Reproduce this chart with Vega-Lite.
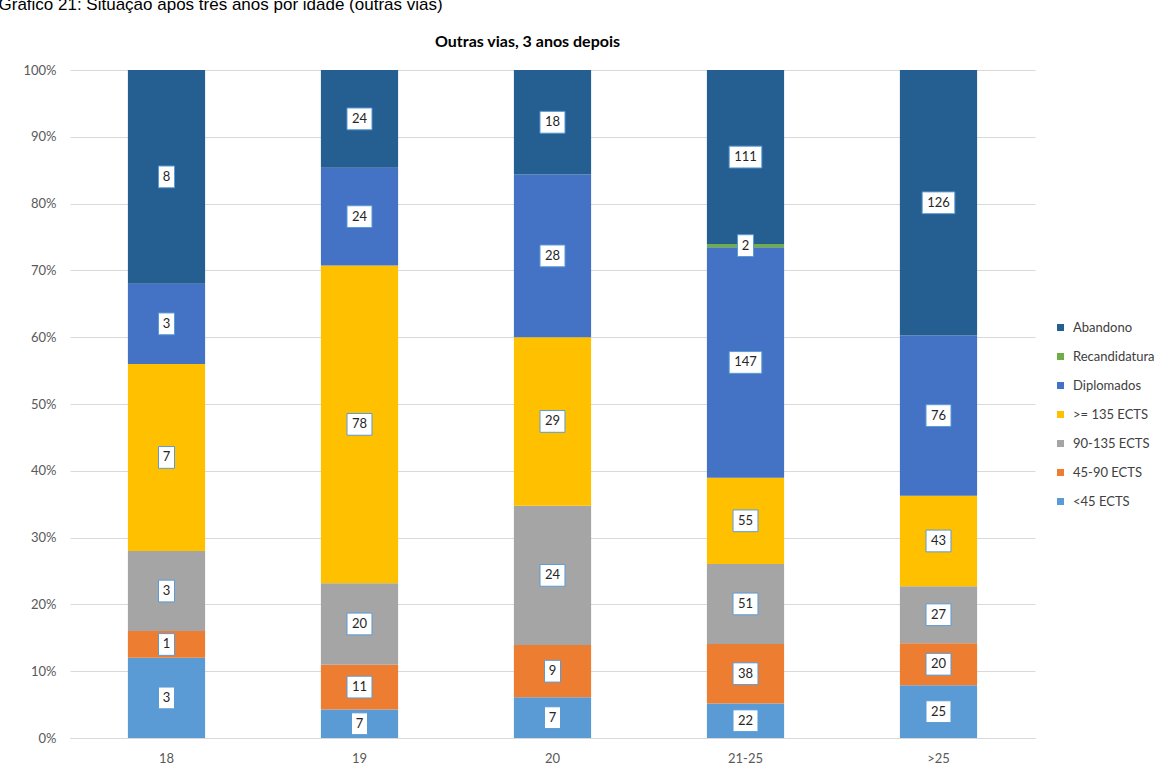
{
  "$schema": "https://vega.github.io/schema/vega-lite/v6.json",
  "background": "white",
  "autosize": {"type": "none"},
  "width": 965,
  "height": 668,
  "padding": {"left": 70, "top": 70, "right": 137, "bottom": 33},
  "title": {"text": "Outras vias, 3 anos depois", "anchor": "middle", "frame": "group", "fontSize": 16, "font": "Lato", "fontWeight": "bold", "color": "#000000", "dx": -25, "offset": 0, "dy": 55},
  "data": {"values": [
    {"age": "18", "cat": "<45 ECTS", "k": 1, "value": 3},
    {"age": "18", "cat": "45-90 ECTS", "k": 2, "value": 1},
    {"age": "18", "cat": "90-135 ECTS", "k": 3, "value": 3},
    {"age": "18", "cat": ">= 135 ECTS", "k": 4, "value": 7},
    {"age": "18", "cat": "Diplomados", "k": 5, "value": 3},
    {"age": "18", "cat": "Recandidatura", "k": 6, "value": 0},
    {"age": "18", "cat": "Abandono", "k": 7, "value": 8},
    {"age": "19", "cat": "<45 ECTS", "k": 1, "value": 7},
    {"age": "19", "cat": "45-90 ECTS", "k": 2, "value": 11},
    {"age": "19", "cat": "90-135 ECTS", "k": 3, "value": 20},
    {"age": "19", "cat": ">= 135 ECTS", "k": 4, "value": 78},
    {"age": "19", "cat": "Diplomados", "k": 5, "value": 24},
    {"age": "19", "cat": "Recandidatura", "k": 6, "value": 0},
    {"age": "19", "cat": "Abandono", "k": 7, "value": 24},
    {"age": "20", "cat": "<45 ECTS", "k": 1, "value": 7},
    {"age": "20", "cat": "45-90 ECTS", "k": 2, "value": 9},
    {"age": "20", "cat": "90-135 ECTS", "k": 3, "value": 24},
    {"age": "20", "cat": ">= 135 ECTS", "k": 4, "value": 29},
    {"age": "20", "cat": "Diplomados", "k": 5, "value": 28},
    {"age": "20", "cat": "Recandidatura", "k": 6, "value": 0},
    {"age": "20", "cat": "Abandono", "k": 7, "value": 18},
    {"age": "21-25", "cat": "<45 ECTS", "k": 1, "value": 22},
    {"age": "21-25", "cat": "45-90 ECTS", "k": 2, "value": 38},
    {"age": "21-25", "cat": "90-135 ECTS", "k": 3, "value": 51},
    {"age": "21-25", "cat": ">= 135 ECTS", "k": 4, "value": 55},
    {"age": "21-25", "cat": "Diplomados", "k": 5, "value": 147},
    {"age": "21-25", "cat": "Recandidatura", "k": 6, "value": 2},
    {"age": "21-25", "cat": "Abandono", "k": 7, "value": 111},
    {"age": ">25", "cat": "<45 ECTS", "k": 1, "value": 25},
    {"age": ">25", "cat": "45-90 ECTS", "k": 2, "value": 20},
    {"age": ">25", "cat": "90-135 ECTS", "k": 3, "value": 27},
    {"age": ">25", "cat": ">= 135 ECTS", "k": 4, "value": 43},
    {"age": ">25", "cat": "Diplomados", "k": 5, "value": 76},
    {"age": ">25", "cat": "Recandidatura", "k": 6, "value": 0},
    {"age": ">25", "cat": "Abandono", "k": 7, "value": 126}
  ]},
  "transform": [
    {"stack": "value", "groupby": ["age"], "sort": [{"field": "k", "order": "ascending"}], "offset": "normalize", "as": ["y0", "y1"]},
    {"calculate": "(datum.y0 + datum.y1) / 2", "as": "ymid"},
    {"calculate": "length(toString(datum.value))", "as": "digits"}
  ],
  "encoding": {
    "x": {"field": "age", "type": "nominal", "sort": ["18", "19", "20", "21-25", ">25"], "scale": {"paddingInner": 0.6, "paddingOuter": 0.3},
          "axis": {"title": null, "labelAngle": 0, "ticks": false, "domainColor": "#D9D9D9", "labelColor": "#595959", "labelFontSize": 13, "labelFont": "Lato", "labelPadding": 14}}
  },
  "layer": [
    {
      "mark": {"type": "bar"},
      "encoding": {
        "y": {"field": "y0", "type": "quantitative", "scale": {"domain": [0, 1]}, "title": "Gráfico 21: Situação após três anos por idade (outras vias)"},
        "y2": {"field": "y1"},
        "color": {"field": "cat", "type": "nominal",
                  "scale": {"domain": ["Abandono", "Recandidatura", "Diplomados", ">= 135 ECTS", "90-135 ECTS", "45-90 ECTS", "<45 ECTS"],
                            "range": ["#255E91", "#70AD47", "#4472C4", "#FFC000", "#A5A5A5", "#ED7D31", "#5B9BD5"]},
                  "legend": {"title": null, "orient": "none", "legendX": 984, "legendY": 251, "symbolType": "square", "symbolSize": 49, "symbolStrokeWidth": 0, "labelFontSize": 13, "labelFont": "Lato", "labelColor": "#404040", "rowPadding": 15, "labelOffset": 6}}
      }
    },
    {
      "transform": [{"filter": "datum.value > 0"}],
      "mark": {"type": "point", "filled": true, "fill": "white", "stroke": "#5B9BD5", "strokeWidth": 1, "opacity": 1, "size": 1024},
      "encoding": {
        "y": {"field": "ymid", "type": "quantitative", "title": "Gráfico 21: Situação após três anos por idade (outras vias)"},
        "shape": {"field": "digits", "type": "ordinal", "legend": null,
                  "scale": {"domain": [1, 2, 3], "range": ["M-0.5,-0.68L0.5,-0.68L0.5,0.68L-0.5,0.68Z", "M-0.78,-0.68L0.78,-0.68L0.78,0.68L-0.78,0.68Z", "M-1.02,-0.68L1.02,-0.68L1.02,0.68L-1.02,0.68Z"]}}
      }
    },
    {
      "transform": [{"filter": "datum.value > 0"}],
      "mark": {"type": "text", "fontSize": 13, "font": "Lato", "color": "#262626", "baseline": "middle", "align": "center"},
      "encoding": {
        "y": {"field": "ymid", "type": "quantitative", "title": "Gráfico 21: Situação após três anos por idade (outras vias)"},
        "text": {"field": "value", "type": "quantitative"}
      }
    }
  ],
  "config": {
    "view": {"stroke": null},
    "axisY": {"titleAngle": 0, "titleX": -72, "titleY": -61, "titleAlign": "left", "titleBaseline": "alphabetic", "titleFont": "Liberation Sans", "titleFontSize": 17, "titleFontWeight": "normal", "titleColor": "#000000",
              "format": ".0%", "tickCount": 10, "ticks": false, "domain": false, "grid": true, "gridColor": "#D9D9D9", "labelColor": "#595959", "labelFontSize": 13, "labelFont": "Lato", "labelPadding": 14}
  }
}
